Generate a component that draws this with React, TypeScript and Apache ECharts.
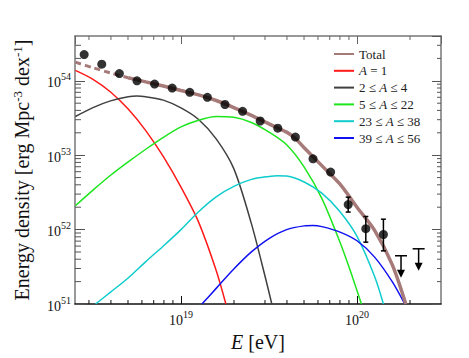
import React, { useEffect, useRef } from "react";
import * as echarts from "echarts";

const FONT = '"Liberation Serif", "Times New Roman", "DejaVu Serif", serif';

const X_MIN = 2.5e18;
const X_MAX = 3e20;
const Y_MIN = 1e51;
const Y_MAX = 4e54;

// Measured data (log10 E bins and energy density)
const binLgE = [18.45, 18.55, 18.65, 18.75, 18.85, 18.95, 19.05, 19.15, 19.25, 19.35, 19.45, 19.55, 19.65, 19.75, 19.85, 19.95, 20.05, 20.15];
const density = [2.25e54, 1.67e54, 1.25e54, 1.0e54, 9.04e53, 7.98e53, 7.0e53, 6.0e53, 4.8e53, 3.89e53, 2.88e53, 2.31e53, 1.75e53, 8.95e52, 5.94e52, 2.17e52, 1.03e52, 8.59e51];
const errLgE = [19.95, 20.05, 20.15];
const errLow = [1.72e52, 6.78e51, 5.18e51];
const errHigh = [2.73e52, 1.5e52, 1.38e52];
const limitLgE = [20.25, 20.35];
const limitValue = [4.45e51, 5.52e51];

// Model curves: log10 E and log10 energy density
const totalLowLgE = [18.4, 18.5, 18.6, 18.7];
const totalLowLog = [54.25, 54.175, 54.105, 54.04];
const totalLgE = [18.7, 18.8, 18.9, 19.0, 19.1, 19.2, 19.3, 19.4, 19.5, 19.6, 19.65, 19.7, 19.8, 19.9, 20.0, 20.1, 20.2, 20.277];
const totalLog = [54.04, 53.985, 53.93, 53.87, 53.81, 53.735, 53.64, 53.535, 53.42, 53.31, 53.225, 53.1, 52.86, 52.62, 52.3, 51.99, 51.53, 51.0];
const protonLgE = [18.4, 18.5, 18.6, 18.7, 18.8, 18.9, 19.0, 19.1, 19.2, 19.255];
const protonLog = [54.14, 54.02, 53.85, 53.62, 53.33, 52.98, 52.57, 52.1, 51.45, 51.0];
const heliumLgE = [18.4, 18.5, 18.6, 18.7, 18.75, 18.8, 18.9, 19.0, 19.1, 19.2, 19.3, 19.4, 19.48, 19.516];
const heliumLog = [53.52, 53.64, 53.73, 53.785, 53.795, 53.785, 53.74, 53.635, 53.48, 53.22, 52.82, 52.08, 51.35, 51.0];
const cnoLgE = [18.4, 18.5, 18.6, 18.7, 18.8, 18.9, 19.0, 19.1, 19.2, 19.3, 19.4, 19.5, 19.6, 19.7, 19.8, 19.9, 19.96, 20.025];
const cnoLog = [52.32, 52.53, 52.73, 52.91, 53.08, 53.24, 53.38, 53.47, 53.52, 53.51, 53.44, 53.31, 53.14, 52.84, 52.42, 51.85, 51.46, 51.0];
const siLgE = [18.515, 18.6, 18.7, 18.8, 18.9, 19.0, 19.1, 19.2, 19.3, 19.4, 19.5, 19.55, 19.6, 19.7, 19.8, 19.9, 20.0, 20.1, 20.15];
const siLog = [51.0, 51.16, 51.35, 51.57, 51.78, 52.0, 52.24, 52.44, 52.58, 52.675, 52.715, 52.725, 52.72, 52.64, 52.49, 52.25, 51.91, 51.37, 51.0];
const feLgE = [19.119, 19.2, 19.3, 19.4, 19.5, 19.6, 19.7, 19.75, 19.8, 19.9, 20.0, 20.1, 20.2, 20.271];
const feLog = [51.0, 51.21, 51.47, 51.7, 51.88, 52.0, 52.05, 52.055, 52.04, 51.97, 51.85, 51.63, 51.3, 51.0];

const legendNames = ["Total", "A = 1", "2 ≤ A ≤ 4", "5 ≤ A ≤ 22", "23 ≤ A ≤ 38", "39 ≤ A ≤ 56"];

const pairs = (lg: number[], lv: number[]) => lg.map((e, i) => [10 ** e, 10 ** lv[i]]);

export default function App() {
  const ref = useRef<HTMLDivElement>(null);
  useEffect(() => {
    if (!ref.current) return;
    const chart = echarts.init(ref.current, undefined, { renderer: "svg" });

    const xMinor: number[] = [];
    for (let d = 18; d <= 20; d++) for (let m = 2; m <= 9; m++) {
      const v = m * 10 ** d;
      if (v > X_MIN * 1.001 && v < X_MAX * 0.999) xMinor.push(v);
    }
    const yMinor: number[] = [];
    for (let d = 51; d <= 54; d++) for (let m = 2; m <= 9; m++) {
      const v = m * 10 ** d;
      if (v > Y_MIN * 1.001 && v < Y_MAX * 0.999) yMinor.push(v);
    }

    const tickLabel = (v: number) => `{b|10}{s|${Math.round(Math.log10(v))}}`;
    const labelRich = {
      b: { fontFamily: FONT, fontSize: 14, color: "#111", lineHeight: 18, verticalAlign: "bottom" },
      s: { fontFamily: FONT, fontSize: 10, color: "#111", lineHeight: 18, verticalAlign: "top" },
    };

    const lineSeries = (name: string, lg: number[], lv: number[], color: string, width = 1.5) => ({
      name,
      type: "line",
      data: pairs(lg, lv),
      symbol: "none",
      smooth: 0.3,
      color,
      lineStyle: { color, width },
      z: 2,
    });

    chart.setOption({
      animation: false,
      backgroundColor: "#fff",
      grid: { left: 75, top: 36, width: 366, height: 268 },
      legend: {
        data: legendNames,
        orient: "vertical",
        left: 333,
        top: 47,
        padding: 0,
        itemWidth: 20,
        itemHeight: 10,
        itemGap: 2.8,
        itemStyle: { opacity: 0 },
        formatter: (name: string) => name.split("A").join("{i|A}"),
        textStyle: {
          fontFamily: FONT,
          fontSize: 13,
          color: "#222",
          lineHeight: 14,
          rich: { i: { fontFamily: FONT, fontSize: 13, fontStyle: "italic", color: "#222", lineHeight: 14 } },
        },
      },
      xAxis: [
        {
          type: "log",
          logBase: 10,
          min: X_MIN,
          max: X_MAX,
          position: "bottom",
          axisLine: { lineStyle: { color: "#111", width: 1.5 } },
          axisTick: { inside: true, length: 8, lineStyle: { color: "#111", width: 1 } },
          axisLabel: {
            formatter: tickLabel,
            rich: labelRich,
            fontFamily: FONT,
            fontSize: 14,
            color: "#111",
            margin: 5,
            showMinLabel: false,
            showMaxLabel: false,
          },
          splitLine: { show: false },
          minorTick: { show: false },
          name: "{i|E} [eV]",
          nameLocation: "middle",
          nameGap: 25,
          nameTextStyle: {
            fontFamily: FONT,
            fontSize: 20,
            color: "#111",
            rich: { i: { fontFamily: FONT, fontSize: 20, fontStyle: "italic", color: "#111" } },
          },
        },
        {
          type: "log",
          logBase: 10,
          min: X_MIN,
          max: X_MAX,
          position: "top",
          axisLine: { lineStyle: { color: "#777", width: 1.5 } },
          axisTick: { inside: true, length: 8, lineStyle: { color: "#666", width: 1 } },
          axisLabel: { show: false },
          splitLine: { show: false },
        },
      ],
      yAxis: [
        {
          type: "log",
          logBase: 10,
          min: Y_MIN,
          max: Y_MAX,
          position: "left",
          axisLine: { lineStyle: { color: "#777", width: 1.5 } },
          axisTick: { inside: true, length: 10, lineStyle: { color: "#555", width: 1 } },
          axisLabel: {
            formatter: tickLabel,
            rich: labelRich,
            fontFamily: FONT,
            fontSize: 14,
            color: "#111",
            margin: 4,
            showMaxLabel: false,
          },
          splitLine: { show: false },
          name: "Energy density [erg Mpc{s|-3} dex{s|-1}]",
          nameLocation: "middle",
          nameGap: 42,
          nameRotate: 90,
          nameTextStyle: {
            fontFamily: FONT,
            fontSize: 20,
            color: "#111",
            lineHeight: 22,
            rich: { s: { fontFamily: FONT, fontSize: 13, color: "#111", verticalAlign: "top", lineHeight: 22 } },
          },
        },
        {
          type: "log",
          logBase: 10,
          min: Y_MIN,
          max: Y_MAX,
          position: "right",
          axisLine: { lineStyle: { color: "#777", width: 1.5 } },
          axisTick: { inside: true, length: 9, lineStyle: { color: "#555", width: 1 } },
          axisLabel: { show: false },
          splitLine: { show: false },
        },
      ],
      series: [
        {
          name: "xminor",
          type: "custom",
          silent: true,
          data: xMinor.map((v) => [v, Y_MIN]),
          encode: { x: 0, y: 1 },
          renderItem: (_p: any, api: any) => {
            const v = api.value(0);
            const b = api.coord([v, Y_MIN]);
            const t = api.coord([v, Y_MAX]);
            return {
              type: "group",
              children: [
                { type: "line", shape: { x1: b[0], y1: b[1], x2: b[0], y2: b[1] - 4 }, style: { stroke: "#111", lineWidth: 1 } },
                { type: "line", shape: { x1: t[0], y1: t[1], x2: t[0], y2: t[1] + 4 }, style: { stroke: "#666", lineWidth: 1 } },
              ],
            };
          },
        },
        {
          name: "yminor",
          type: "custom",
          silent: true,
          data: yMinor.map((v) => [X_MIN, v]),
          encode: { x: 0, y: 1 },
          renderItem: (_p: any, api: any) => {
            const v = api.value(1);
            const l = api.coord([X_MIN, v]);
            const r = api.coord([X_MAX, v]);
            return {
              type: "group",
              children: [
                { type: "line", shape: { x1: l[0], y1: l[1], x2: l[0] + 6, y2: l[1] }, style: { stroke: "#555", lineWidth: 1 } },
                { type: "line", shape: { x1: r[0], y1: r[1], x2: r[0] - 4, y2: r[1] }, style: { stroke: "#555", lineWidth: 1 } },
              ],
            };
          },
        },
        lineSeries("A = 1", protonLgE, protonLog, "#ff1a1a"),
        lineSeries("2 ≤ A ≤ 4", heliumLgE, heliumLog, "#404040"),
        lineSeries("5 ≤ A ≤ 22", cnoLgE, cnoLog, "#1ee61e"),
        lineSeries("23 ≤ A ≤ 38", siLgE, siLog, "#10cccc"),
        lineSeries("39 ≤ A ≤ 56", feLgE, feLog, "#1010f0"),
        {
          name: "TotalLow",
          type: "line",
          data: pairs(totalLowLgE, totalLowLog),
          symbol: "none",
          smooth: 0.3,
          lineStyle: { color: "#a67a78", width: 3, type: [6, 4] },
          z: 3,
        },
        { ...lineSeries("Total", totalLgE, totalLog, "#a67a78", 3.5), z: 3 },
        {
          name: "errors",
          type: "custom",
          data: errLgE.map((e, i) => [10 ** e, errLow[i], errHigh[i]]),
          encode: { x: 0, y: [1, 2] },
          z: 4,
          renderItem: (_p: any, api: any) => {
            const lo = api.coord([api.value(0), api.value(1)]);
            const hi = api.coord([api.value(0), api.value(2)]);
            const st = { stroke: "#000", lineWidth: 1.5 };
            return {
              type: "group",
              children: [
                { type: "line", shape: { x1: lo[0], y1: lo[1], x2: hi[0], y2: hi[1] }, style: st },
                { type: "line", shape: { x1: lo[0] - 2.5, y1: lo[1], x2: lo[0] + 2.5, y2: lo[1] }, style: st },
                { type: "line", shape: { x1: hi[0] - 2.5, y1: hi[1], x2: hi[0] + 2.5, y2: hi[1] }, style: st },
              ],
            };
          },
        },
        {
          name: "limits",
          type: "custom",
          data: limitLgE.map((e, i) => [10 ** e, limitValue[i]]),
          encode: { x: 0, y: 1 },
          z: 4,
          renderItem: (_p: any, api: any) => {
            const p = api.coord([api.value(0), api.value(1)]);
            const st = { stroke: "#000", lineWidth: 1.5 };
            return {
              type: "group",
              children: [
                { type: "line", shape: { x1: p[0] - 6, y1: p[1], x2: p[0] + 6, y2: p[1] }, style: st },
                { type: "line", shape: { x1: p[0], y1: p[1], x2: p[0], y2: p[1] + 15 }, style: st },
                { type: "polygon", shape: { points: [[p[0] - 4, p[1] + 14], [p[0] + 4, p[1] + 14], [p[0], p[1] + 22]] }, style: { fill: "#000" } },
              ],
            };
          },
        },
        {
          name: "Auger",
          type: "scatter",
          data: binLgE.map((e, i) => [10 ** e, density[i]]),
          symbol: "circle",
          symbolSize: 9,
          itemStyle: { color: "#000" },
          z: 5,
        },
      ],
    });
    return () => chart.dispose();
  }, []);
  return <div ref={ref} style={{ position: "fixed", left: 0, top: 0, width: 469, height: 358 }} />;
}
